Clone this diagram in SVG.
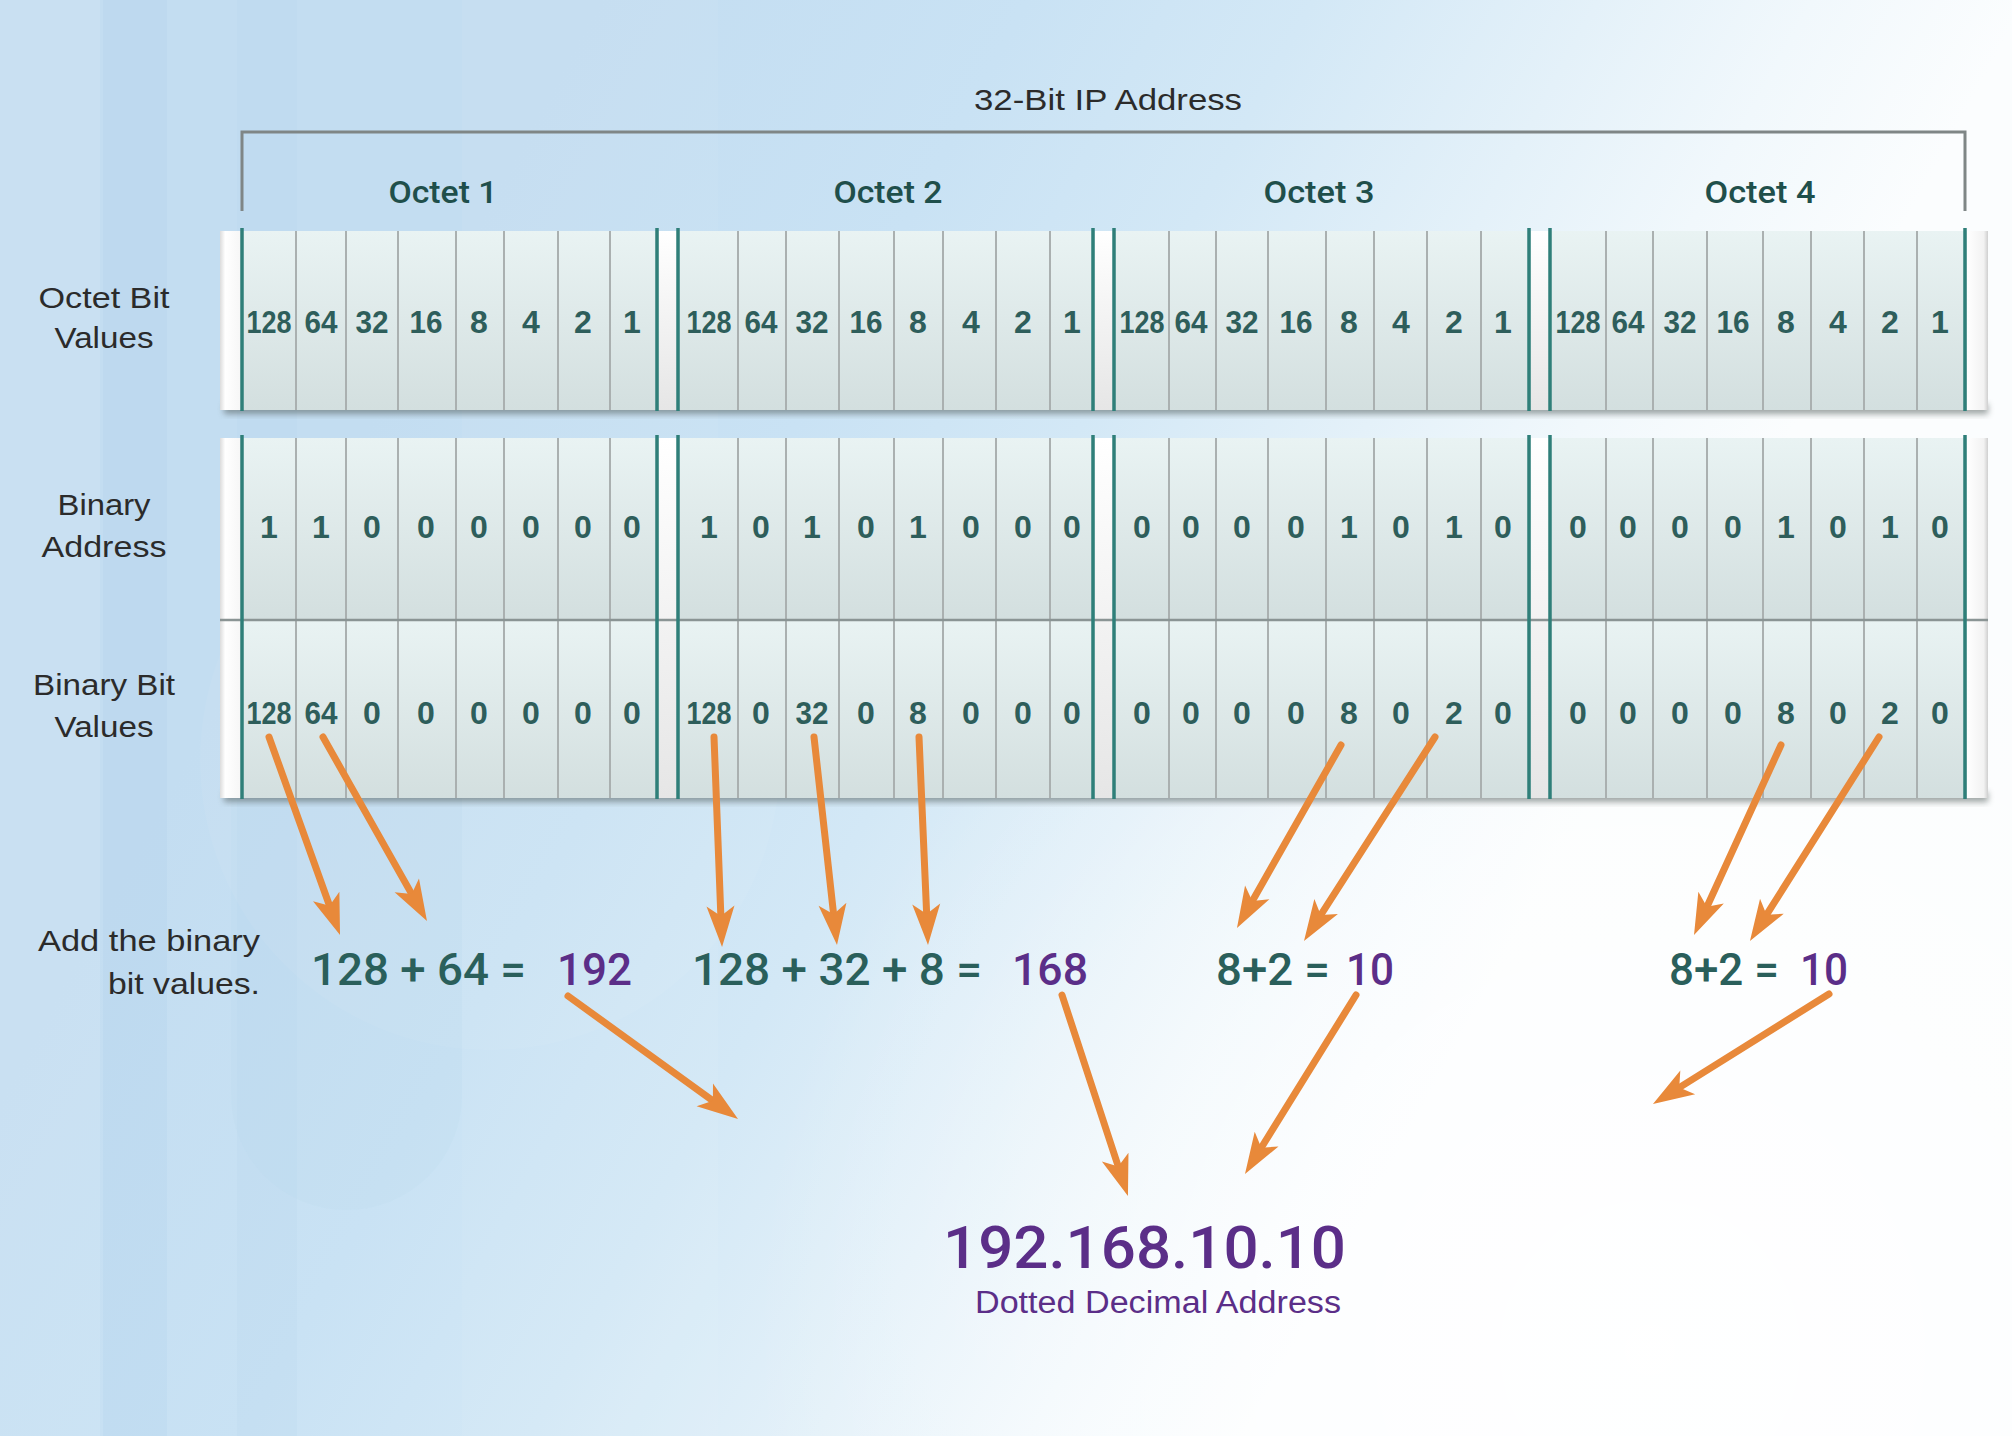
<svg xmlns="http://www.w3.org/2000/svg" width="2012" height="1436" viewBox="0 0 2012 1436">
<defs>
  <linearGradient id="bg" gradientUnits="userSpaceOnUse" x1="600" y1="0" x2="1700" y2="600">
    <stop offset="0" stop-color="#c3ddf1"/>
    <stop offset="0.3" stop-color="#c9e2f4"/>
    <stop offset="0.5" stop-color="#d3e8f6"/>
    <stop offset="0.7" stop-color="#e4f1f9"/>
    <stop offset="0.85" stop-color="#f1f8fc"/>
    <stop offset="1" stop-color="#fbfdfe"/>
  </linearGradient>
  <radialGradient id="glow" gradientUnits="userSpaceOnUse" cx="1650" cy="1350" r="900">
    <stop offset="0" stop-color="#ffffff" stop-opacity="0.9"/>
    <stop offset="1" stop-color="#ffffff" stop-opacity="0"/>
  </radialGradient>
  <linearGradient id="cell" x1="0" y1="0" x2="0" y2="1">
    <stop offset="0" stop-color="#e9f3f3"/>
    <stop offset="1" stop-color="#d3dfdf"/>
  </linearGradient>
  <linearGradient id="bevel" x1="0" y1="0" x2="0" y2="1">
    <stop offset="0" stop-color="#ffffff"/>
    <stop offset="1" stop-color="#e6e6e6"/>
  </linearGradient>
  <linearGradient id="bevelR" x1="0" y1="0" x2="1" y2="0">
    <stop offset="0" stop-color="#ffffff"/>
    <stop offset="0.8" stop-color="#f2f2f2"/>
    <stop offset="1" stop-color="#cfcfcf"/>
  </linearGradient>
  <linearGradient id="bevelL" x1="0" y1="0" x2="1" y2="0">
    <stop offset="0" stop-color="#dcdcdc"/>
    <stop offset="0.25" stop-color="#ffffff"/>
    <stop offset="1" stop-color="#f6f6f6"/>
  </linearGradient>
  <filter id="blur" x="-5%" y="-50%" width="110%" height="200%">
    <feGaussianBlur stdDeviation="3"/>
  </filter>
  <marker id="ah" markerUnits="userSpaceOnUse" markerWidth="50" markerHeight="34" viewBox="-15 -17 50 34" refX="0" refY="0" orient="auto">
    <path d="M30,0 L-11,-14 L-1,0 L-11,14 Z" fill="#e8893a"/>
  </marker>
</defs>
<style>
  .lbl { font-family: 'Liberation Sans', Arial, sans-serif; font-size: 30px; fill: #2b2b2b; text-anchor: middle; }
  .lblr { font-family: 'Liberation Sans', Arial, sans-serif; font-size: 30px; fill: #2b2b2b; text-anchor: end; }
  .oct { font-family: Roboto, 'Liberation Sans', sans-serif; font-weight: 500; font-size: 32px; fill: #1f4f4b; text-anchor: middle; }
  .d { font-family: 'Liberation Sans', Arial, sans-serif; font-weight: bold; font-size: 32px; fill: #2e5e5b; text-anchor: middle; }
  .eq { font-family: Roboto, 'Liberation Sans', sans-serif; font-weight: 500; font-size: 44px; fill: #2a5f5b; }
  .pu { fill: #5b2e88; }
  .grid { stroke: #aab0b0; stroke-width: 2; fill: none; }
  .teal { stroke: #2f7f79; stroke-width: 3.5; fill: none; }
  .arrow { stroke: #e8893a; stroke-width: 7; stroke-linecap: round; fill: none; marker-end: url(#ah); }
</style>

<g id="background">
  <rect x="0" y="0" width="2012" height="1436" fill="url(#bg)"/>
  <rect x="0" y="0" width="2012" height="1436" fill="url(#glow)"/>
  <rect x="0" y="0" width="100" height="1436" fill="#ffffff" opacity="0.1"/>
  <rect x="103" y="0" width="64" height="1436" fill="#a9cfec" opacity="0.2"/>
  <rect x="237" y="0" width="60" height="1436" fill="#b0d3ee" opacity="0.15"/>
  <rect x="462" y="0" width="256" height="1436" fill="#ffffff" opacity="0.05"/>
  <rect x="231" y="560" width="231" height="650" rx="115" fill="#b3d5ee" opacity="0.15"/>
  <circle cx="490" cy="760" r="290" fill="#ffffff" opacity="0.05"/>
</g>

<g id="header">
  <path d="M242,211 V132 H1965 V211" stroke="#7f8686" stroke-width="3" fill="none"/>
  <text x="974" y="110" textLength="268" lengthAdjust="spacingAndGlyphs" style="font-family:'Liberation Sans',Arial,sans-serif;font-size:29px;fill:#2b2b2b">32-Bit IP Address</text>
</g>

<g id="octet-labels">
  <text class="oct" x="443" y="203" textLength="109" lengthAdjust="spacingAndGlyphs">Octet 1</text>
  <text class="oct" x="888" y="203" textLength="109" lengthAdjust="spacingAndGlyphs">Octet 2</text>
  <text class="oct" x="1319" y="203" textLength="111" lengthAdjust="spacingAndGlyphs">Octet 3</text>
  <text class="oct" x="1760" y="203" textLength="111" lengthAdjust="spacingAndGlyphs">Octet 4</text>
</g>

<g id="row-labels">
  <text class="lbl" x="104" y="308" textLength="131" lengthAdjust="spacingAndGlyphs">Octet Bit</text>
  <text class="lbl" x="104" y="348" textLength="99" lengthAdjust="spacingAndGlyphs">Values</text>
  <text class="lbl" x="104" y="515" textLength="93" lengthAdjust="spacingAndGlyphs">Binary</text>
  <text class="lbl" x="104" y="557" textLength="125" lengthAdjust="spacingAndGlyphs">Address</text>
  <text class="lbl" x="104" y="695" textLength="142" lengthAdjust="spacingAndGlyphs">Binary Bit</text>
  <text class="lbl" x="104" y="737" textLength="99" lengthAdjust="spacingAndGlyphs">Values</text>
  <text class="lblr" x="260" y="951" textLength="222" lengthAdjust="spacingAndGlyphs">Add the binary</text>
  <text class="lblr" x="260" y="994" textLength="152" lengthAdjust="spacingAndGlyphs">bit values.</text>
</g>

<g id="bar-octet-bit-values">
  <rect x="224" y="404" width="1764" height="10" fill="#4f5a59" opacity="0.55" filter="url(#blur)"/>
  <rect x="220" y="231" width="1768" height="179" fill="url(#cell)"/>
  <rect x="220" y="231" width="21" height="179" fill="url(#bevelL)"/>
  <rect x="659" y="231" width="18" height="179" fill="url(#bevel)"/>
  <rect x="1095" y="231" width="18" height="179" fill="url(#bevel)"/>
  <rect x="1531" y="231" width="18" height="179" fill="url(#bevel)"/>
  <rect x="1967" y="231" width="21" height="179" fill="url(#bevelR)"/>
  <path class="grid" d="M296,231V410M346,231V410M398,231V410M456,231V410M504,231V410M558,231V410M610,231V410M738,231V410M786,231V410M839,231V410M894,231V410M943,231V410M996,231V410M1050,231V410M1169,231V410M1216,231V410M1268,231V410M1326,231V410M1374,231V410M1427,231V410M1481,231V410M1606,231V410M1653,231V410M1707,231V410M1763,231V410M1811,231V410M1864,231V410M1917,231V410"/>
  <path class="teal" d="M242,228V411M657,228V411M678,228V411M1093,228V411M1114,228V411M1529,228V411M1550,228V411M1965,228V411"/>
</g>

<g id="bar-binary">
  <rect x="224" y="792" width="1764" height="10" fill="#4f5a59" opacity="0.55" filter="url(#blur)"/>
  <rect x="220" y="438" width="1768" height="181" fill="url(#cell)"/>
  <rect x="220" y="619" width="1768" height="179" fill="url(#cell)"/>
  <rect x="220" y="438" width="21" height="360" fill="url(#bevelL)"/>
  <rect x="659" y="438" width="18" height="360" fill="url(#bevel)"/>
  <rect x="1095" y="438" width="18" height="360" fill="url(#bevel)"/>
  <rect x="1531" y="438" width="18" height="360" fill="url(#bevel)"/>
  <rect x="1967" y="438" width="21" height="360" fill="url(#bevelR)"/>
  <path class="grid" d="M296,438V798M346,438V798M398,438V798M456,438V798M504,438V798M558,438V798M610,438V798M738,438V798M786,438V798M839,438V798M894,438V798M943,438V798M996,438V798M1050,438V798M1169,438V798M1216,438V798M1268,438V798M1326,438V798M1374,438V798M1427,438V798M1481,438V798M1606,438V798M1653,438V798M1707,438V798M1763,438V798M1811,438V798M1864,438V798M1917,438V798"/>
  <path d="M220,620 H1988" stroke="#8a9494" stroke-width="2.5" fill="none"/>
  <path class="teal" d="M242,435V799M657,435V799M678,435V799M1093,435V799M1114,435V799M1529,435V799M1550,435V799M1965,435V799"/>
</g>

<g id="octet1">
  <text class="d" x="269" y="333" textLength="45" lengthAdjust="spacingAndGlyphs">128</text>
  <text class="d" x="321" y="333" textLength="33" lengthAdjust="spacingAndGlyphs">64</text>
  <text class="d" x="372" y="333" textLength="33" lengthAdjust="spacingAndGlyphs">32</text>
  <text class="d" x="426" y="333" textLength="33" lengthAdjust="spacingAndGlyphs">16</text>
  <text class="d" x="479" y="333">8</text>
  <text class="d" x="531" y="333">4</text>
  <text class="d" x="583" y="333">2</text>
  <text class="d" x="632" y="333">1</text>
  <text class="d" x="269" y="538">1</text>
  <text class="d" x="321" y="538">1</text>
  <text class="d" x="372" y="538">0</text>
  <text class="d" x="426" y="538">0</text>
  <text class="d" x="479" y="538">0</text>
  <text class="d" x="531" y="538">0</text>
  <text class="d" x="583" y="538">0</text>
  <text class="d" x="632" y="538">0</text>
  <text class="d" x="269" y="724" textLength="45" lengthAdjust="spacingAndGlyphs">128</text>
  <text class="d" x="321" y="724" textLength="33" lengthAdjust="spacingAndGlyphs">64</text>
  <text class="d" x="372" y="724">0</text>
  <text class="d" x="426" y="724">0</text>
  <text class="d" x="479" y="724">0</text>
  <text class="d" x="531" y="724">0</text>
  <text class="d" x="583" y="724">0</text>
  <text class="d" x="632" y="724">0</text>
</g>

<g id="octet2">
  <text class="d" x="709" y="333" textLength="45" lengthAdjust="spacingAndGlyphs">128</text>
  <text class="d" x="761" y="333" textLength="33" lengthAdjust="spacingAndGlyphs">64</text>
  <text class="d" x="812" y="333" textLength="33" lengthAdjust="spacingAndGlyphs">32</text>
  <text class="d" x="866" y="333" textLength="33" lengthAdjust="spacingAndGlyphs">16</text>
  <text class="d" x="918" y="333">8</text>
  <text class="d" x="971" y="333">4</text>
  <text class="d" x="1023" y="333">2</text>
  <text class="d" x="1072" y="333">1</text>
  <text class="d" x="709" y="538">1</text>
  <text class="d" x="761" y="538">0</text>
  <text class="d" x="812" y="538">1</text>
  <text class="d" x="866" y="538">0</text>
  <text class="d" x="918" y="538">1</text>
  <text class="d" x="971" y="538">0</text>
  <text class="d" x="1023" y="538">0</text>
  <text class="d" x="1072" y="538">0</text>
  <text class="d" x="709" y="724" textLength="45" lengthAdjust="spacingAndGlyphs">128</text>
  <text class="d" x="761" y="724">0</text>
  <text class="d" x="812" y="724" textLength="33" lengthAdjust="spacingAndGlyphs">32</text>
  <text class="d" x="866" y="724">0</text>
  <text class="d" x="918" y="724">8</text>
  <text class="d" x="971" y="724">0</text>
  <text class="d" x="1023" y="724">0</text>
  <text class="d" x="1072" y="724">0</text>
</g>

<g id="octet3">
  <text class="d" x="1142" y="333" textLength="45" lengthAdjust="spacingAndGlyphs">128</text>
  <text class="d" x="1191" y="333" textLength="33" lengthAdjust="spacingAndGlyphs">64</text>
  <text class="d" x="1242" y="333" textLength="33" lengthAdjust="spacingAndGlyphs">32</text>
  <text class="d" x="1296" y="333" textLength="33" lengthAdjust="spacingAndGlyphs">16</text>
  <text class="d" x="1349" y="333">8</text>
  <text class="d" x="1401" y="333">4</text>
  <text class="d" x="1454" y="333">2</text>
  <text class="d" x="1503" y="333">1</text>
  <text class="d" x="1142" y="538">0</text>
  <text class="d" x="1191" y="538">0</text>
  <text class="d" x="1242" y="538">0</text>
  <text class="d" x="1296" y="538">0</text>
  <text class="d" x="1349" y="538">1</text>
  <text class="d" x="1401" y="538">0</text>
  <text class="d" x="1454" y="538">1</text>
  <text class="d" x="1503" y="538">0</text>
  <text class="d" x="1142" y="724">0</text>
  <text class="d" x="1191" y="724">0</text>
  <text class="d" x="1242" y="724">0</text>
  <text class="d" x="1296" y="724">0</text>
  <text class="d" x="1349" y="724">8</text>
  <text class="d" x="1401" y="724">0</text>
  <text class="d" x="1454" y="724">2</text>
  <text class="d" x="1503" y="724">0</text>
</g>

<g id="octet4">
  <text class="d" x="1578" y="333" textLength="45" lengthAdjust="spacingAndGlyphs">128</text>
  <text class="d" x="1628" y="333" textLength="33" lengthAdjust="spacingAndGlyphs">64</text>
  <text class="d" x="1680" y="333" textLength="33" lengthAdjust="spacingAndGlyphs">32</text>
  <text class="d" x="1733" y="333" textLength="33" lengthAdjust="spacingAndGlyphs">16</text>
  <text class="d" x="1786" y="333">8</text>
  <text class="d" x="1838" y="333">4</text>
  <text class="d" x="1890" y="333">2</text>
  <text class="d" x="1940" y="333">1</text>
  <text class="d" x="1578" y="538">0</text>
  <text class="d" x="1628" y="538">0</text>
  <text class="d" x="1680" y="538">0</text>
  <text class="d" x="1733" y="538">0</text>
  <text class="d" x="1786" y="538">1</text>
  <text class="d" x="1838" y="538">0</text>
  <text class="d" x="1890" y="538">1</text>
  <text class="d" x="1940" y="538">0</text>
  <text class="d" x="1578" y="724">0</text>
  <text class="d" x="1628" y="724">0</text>
  <text class="d" x="1680" y="724">0</text>
  <text class="d" x="1733" y="724">0</text>
  <text class="d" x="1786" y="724">8</text>
  <text class="d" x="1838" y="724">0</text>
  <text class="d" x="1890" y="724">2</text>
  <text class="d" x="1940" y="724">0</text>
</g>

<g id="sum-octet1">
  <text class="eq" x="311" y="985" textLength="215" lengthAdjust="spacingAndGlyphs">128 + 64 =</text>
  <text class="eq pu" x="557" y="985" textLength="75" lengthAdjust="spacingAndGlyphs">192</text>
</g>
<g id="sum-octet2">
  <text class="eq" x="692" y="985" textLength="290" lengthAdjust="spacingAndGlyphs">128 + 32 + 8 =</text>
  <text class="eq pu" x="1012" y="985" textLength="76" lengthAdjust="spacingAndGlyphs">168</text>
</g>
<g id="sum-octet3">
  <text class="eq" x="1216" y="985" textLength="114" lengthAdjust="spacingAndGlyphs">8+2 =</text>
  <text class="eq pu" x="1346" y="985" textLength="48" lengthAdjust="spacingAndGlyphs">10</text>
</g>
<g id="sum-octet4">
  <text class="eq" x="1669" y="985" textLength="110" lengthAdjust="spacingAndGlyphs">8+2 =</text>
  <text class="eq pu" x="1800" y="985" textLength="48" lengthAdjust="spacingAndGlyphs">10</text>
</g>

<g id="result">
  <text x="943" y="1268" textLength="403" lengthAdjust="spacingAndGlyphs" style="font-family:Roboto,'Liberation Sans',sans-serif;font-weight:500;font-size:60px;fill:#5b2e88">192.168.10.10</text>
  <text x="975" y="1313" textLength="366" lengthAdjust="spacingAndGlyphs" style="font-family:'Liberation Sans',Arial,sans-serif;font-size:31px;fill:#5b2e88">Dotted Decimal Address</text>
</g>

<g id="connectors">
  <line class="arrow" x1="269" y1="737" x2="329.9" y2="906.8"/>
  <line class="arrow" x1="323" y1="737" x2="412.2" y2="894.9"/>
  <line class="arrow" x1="714" y1="737" x2="720.9" y2="917"/>
  <line class="arrow" x1="814" y1="737" x2="833.7" y2="915.2"/>
  <line class="arrow" x1="919" y1="737" x2="926.7" y2="915"/>
  <line class="arrow" x1="1341" y1="745" x2="1251.8" y2="901.9"/>
  <line class="arrow" x1="1435" y1="737" x2="1320.2" y2="915.8"/>
  <line class="arrow" x1="1781" y1="745" x2="1706.5" y2="907.7"/>
  <line class="arrow" x1="1879" y1="737" x2="1766" y2="915.6"/>
  <line class="arrow" x1="568" y1="996" x2="713.7" y2="1101.4"/>
  <line class="arrow" x1="1062" y1="995" x2="1118.6" y2="1167.5"/>
  <line class="arrow" x1="1356" y1="995" x2="1260.8" y2="1148.5"/>
  <line class="arrow" x1="1829" y1="994" x2="1678.4" y2="1088.1"/>
</g>
</svg>
